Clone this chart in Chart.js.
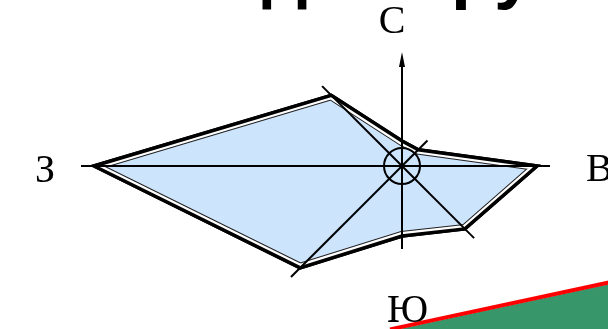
<!DOCTYPE html>
<html>
<head>
<meta charset="utf-8">
<script src="https://cdn.jsdelivr.net/npm/chart.js@4.4.0/dist/chart.umd.min.js"></script>
<style>
html, body { margin: 0; padding: 0; width: 608px; height: 329px; overflow: hidden; background: #fff; }
#rose { position: absolute; left: -8px; top: -244px; }
</style>
</head>
<body>
<canvas id="rose" width="820" height="820"></canvas>
<script>
// directions go clockwise from north
var directions = ['С', 'СВ', 'В', 'ЮВ', 'Ю', 'ЮЗ', 'З', 'СЗ'];
var shownLabels = ['С', 'В', 'Ю', 'З'];
var windValues = [2.5, 2.3, 13.5, 8.9, 7.0, 14.4, 30.8, 10.0];
var scaleMax = 41;
var titleText = 'Вид вокруг';

var axisOverhang = 1.3;
var northAxis = 11.4;

// label spots, pixels from the rose centre
var labelSpots = {
    'С': { x: -10, y: -133, align: 'center' },
    'В': { x: 184, y: 15, align: 'left' },
    'Ю': { x: -15, y: 156, align: 'left' },
    'З': { x: -367, y: 16, align: 'left' }
};

const roseDecor = {
    id: 'roseDecor',
    beforeDatasetsDraw(chart) {
        const ctx = chart.ctx;
        const r = chart.scales.r;
        const cx = r.xCenter, cy = r.yCenter;
        ctx.save();
        // cut-off heading above the picture, only descenders peek in
        ctx.font = 'bold 72px "Liberation Sans"';
        ctx.fillStyle = '#000';
        ctx.textBaseline = 'alphabetic';
        const desc = ctx.measureText('р').actualBoundingBoxDescent || 15;
        ctx.fillText(titleText, cx - 140 - ctx.measureText('Ви').width, cy - 156 - desc);
        // bit of the neighbouring figure, bottom right
        ctx.beginPath();
        ctx.moveTo(cx - 12, cy + 165);
        ctx.lineTo(cx + 208, cy + 118);
        ctx.lineTo(cx + 208, cy + 170);
        ctx.lineTo(cx - 12, cy + 170);
        ctx.closePath();
        ctx.fillStyle = '#38966b';
        ctx.fill();
        ctx.beginPath();
        ctx.moveTo(cx - 12, cy + 163.4);
        ctx.lineTo(cx + 208, cy + 116.2);
        ctx.lineWidth = 4;
        ctx.strokeStyle = '#ff0000';
        ctx.stroke();
        ctx.restore();
    },
    afterDatasetsDraw(chart) {
        const ctx = chart.ctx;
        const r = chart.scales.r;
        const cx = r.xCenter, cy = r.yCenter;
        const pts = chart.getDatasetMeta(0).data;

        ctx.save();
        ctx.lineJoin = 'miter';
        ctx.beginPath();
        pts.forEach(function(p, i) {
            if (i === 0) ctx.moveTo(p.x, p.y);
            else ctx.lineTo(p.x, p.y);
        });
        ctx.closePath();
        // thin inner line with a white gap
        ctx.save();
        ctx.clip();
        ctx.lineWidth = 10;
        ctx.strokeStyle = '#222';
        ctx.stroke();
        ctx.lineWidth = 8;
        ctx.strokeStyle = '#fff';
        ctx.stroke();
        ctx.restore();
        ctx.lineWidth = 3.5;
        ctx.strokeStyle = '#000';
        ctx.stroke();

        // axis rays
        ctx.lineWidth = 2;
        ctx.lineCap = 'butt';
        directions.forEach(function(d, i) {
            const len = i === 0 ? northAxis - 1.5 : windValues[i] + axisOverhang;
            const end = r.getPointPositionForValue(i, len);
            ctx.beginPath();
            ctx.moveTo(cx, cy);
            ctx.lineTo(end.x, end.y);
            ctx.stroke();
        });
        // north arrow head
        const tip = r.getPointPositionForValue(0, northAxis);
        const base = r.getPointPositionForValue(0, northAxis - 1.5);
        ctx.beginPath();
        ctx.moveTo(tip.x, tip.y);
        ctx.lineTo(base.x - 3, base.y);
        ctx.lineTo(base.x + 3, base.y);
        ctx.closePath();
        ctx.fillStyle = '#000';
        ctx.fill();

        // small circle at the centre
        ctx.beginPath();
        ctx.arc(cx, cy, r.getDistanceFromCenterForValue(1.8), 0, Math.PI * 2);
        ctx.stroke();

        // compass letters
        ctx.font = '40px "Liberation Serif"';
        ctx.textBaseline = 'alphabetic';
        shownLabels.forEach(function(lbl) {
            const s = labelSpots[lbl];
            ctx.textAlign = s.align;
            ctx.fillText(lbl, cx + s.x, cy + s.y);
        });
        ctx.restore();
    }
};

var chart = new Chart('rose', {
    type: 'radar',
    data: {
        labels: directions,
        datasets: [{
            label: 'Ветер',
            data: windValues,
            backgroundColor: '#cce4fc',
            borderColor: '#000',
            borderWidth: 3.5,
            borderJoinStyle: 'miter',
            pointRadius: 0,
            fill: 'origin',
            tension: 0
        }]
    },
    options: {
        responsive: false,
        animation: false,
        layout: { padding: 0 },
        plugins: {
            legend: { display: false },
            tooltip: { enabled: false },
            title: { display: false }
        },
        scales: {
            r: {
                min: 0,
                max: scaleMax,
                ticks: { display: false },
                grid: { display: false },
                angleLines: { display: false },
                pointLabels: { display: false }
            }
        }
    },
    plugins: [roseDecor]
});
</script>
</body>
</html>
